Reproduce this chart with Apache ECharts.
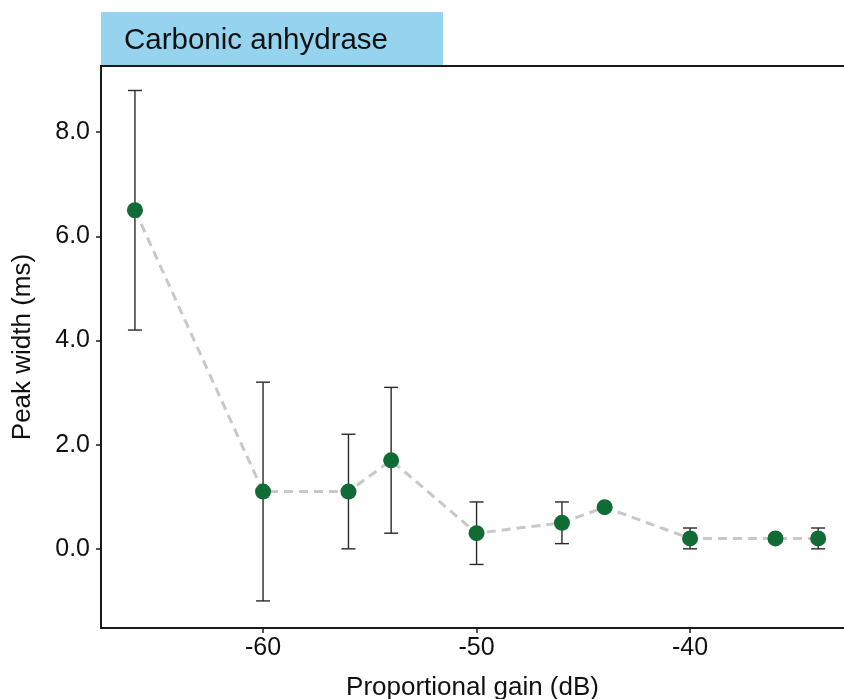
<!DOCTYPE html>
<html>
<head>
<meta charset="utf-8">
<script src="https://cdn.jsdelivr.net/npm/echarts@6/dist/echarts.min.js"></script>
<style>
  html, body { margin: 0; padding: 0; background: #ffffff; }
  #chart { width: 844px; height: 699px; }
</style>
</head>
<body>
<div id="chart"></div>
<script>
// Peak width vs proportional gain, carbonic anhydrase
const gainDb = [-66, -60, -56, -54, -50, -46, -44, -40, -36, -34];
const peakWidth = [6.5, 1.1, 1.1, 1.7, 0.3, 0.5, 0.8, 0.2, 0.2, 0.2];
const errLow = [4.2, -1.0, 0.0, 0.3, -0.3, 0.1, 0.75, 0.0, 0.15, 0.0];
const errHigh = [8.8, 3.2, 2.2, 3.1, 0.9, 0.9, 0.85, 0.4, 0.25, 0.4];
const xTicks = [-60, -50, -40];
const yTicks = [0, 2, 4, 6, 8];
const panelTitle = 'Carbonic anhydrase';

const FONT = '"Liberation Sans", Arial, Helvetica, sans-serif';
const chart = echarts.init(document.getElementById('chart'));

const points = gainDb.map((x, i) => [x, peakWidth[i]]);
const bars = gainDb.map((x, i) => [x, errLow[i], errHigh[i]]);

chart.setOption({
  animation: false,
  backgroundColor: '#ffffff',
  grid: { left: 101, top: 66, right: 0, bottom: 71, outerBoundsMode: 'none', containLabel: false },
  xAxis: {
    type: 'value',
    min: -67.59, max: -32.79,
    name: 'Proportional gain (dB)',
    nameLocation: 'middle', nameGap: 47,
    nameTextStyle: { fontFamily: FONT, fontSize: 26, color: '#111' },
    axisLine: { show: true, onZero: false, lineStyle: { color: '#1a1a1a', width: 2 } },
    axisTick: { show: true, length: 5, customValues: xTicks, lineStyle: { color: '#1a1a1a', width: 1.5 } },
    axisLabel: { customValues: xTicks, fontFamily: FONT, fontSize: 25, color: '#111', margin: 8,
                 formatter: v => String(v) },
    splitLine: { show: false }
  },
  yAxis: {
    type: 'value',
    min: -1.52, max: 9.27,
    name: 'Peak width (ms)',
    nameLocation: 'middle', nameGap: 65,
    nameTextStyle: { fontFamily: FONT, fontSize: 26, color: '#111' },
    axisLine: { show: true, onZero: false, lineStyle: { color: '#1a1a1a', width: 2 } },
    axisTick: { show: true, length: 5, customValues: yTicks, lineStyle: { color: '#1a1a1a', width: 1.5 } },
    axisLabel: { customValues: yTicks, fontFamily: FONT, fontSize: 25, color: '#111', margin: 11,
                 formatter: v => v.toFixed(1) },
    splitLine: { show: false }
  },
  graphic: [
    // top edge of the panel frame
    {
      type: 'line', z: 10,
      shape: { x1: 100, y1: 66, x2: 844, y2: 66 },
      style: { stroke: '#1a1a1a', lineWidth: 2 }
    },
    {
      type: 'rect', left: 101, top: 12, z: 10,
      shape: { width: 342, height: 53 },
      style: { fill: '#96d3ee' }
    },
    {
      type: 'text', left: 124, top: 26, z: 11,
      style: { text: panelTitle, font: '29.5px ' + FONT, fill: '#111' }
    }
  ],
  series: [
    {
      type: 'line',
      data: points,
      z: 1,
      symbol: 'none',
      lineStyle: { color: '#c8c8c8', width: 3, type: [9, 6] }
    },
    {
      type: 'custom',
      data: bars,
      z: 2,
      renderItem: function (params, api) {
        const x = api.value(0);
        const lo = api.coord([x, api.value(1)]);
        const hi = api.coord([x, api.value(2)]);
        const cap = 7;
        const style = { stroke: '#2a2a2a', lineWidth: 1.4, fill: null };
        return {
          type: 'group',
          children: [
            { type: 'line', shape: { x1: lo[0], y1: lo[1], x2: hi[0], y2: hi[1] }, style: style },
            { type: 'line', shape: { x1: lo[0] - cap, y1: lo[1], x2: lo[0] + cap, y2: lo[1] }, style: style },
            { type: 'line', shape: { x1: hi[0] - cap, y1: hi[1], x2: hi[0] + cap, y2: hi[1] }, style: style }
          ]
        };
      }
    },
    {
      type: 'scatter',
      data: points,
      z: 3,
      symbol: 'circle',
      symbolSize: 16,
      itemStyle: { color: '#116b35', opacity: 1 }
    }
  ]
});
</script>
</body>
</html>
